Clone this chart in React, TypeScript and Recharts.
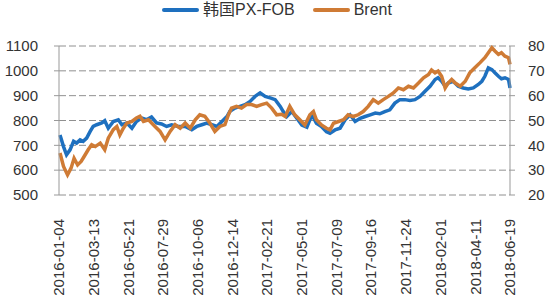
import { CartesianGrid, Line, LineChart, XAxis, YAxis } from "recharts";

// x positions are days since 2016-01-04
const pxDays = [
  2, 9, 15, 22, 29, 35, 42, 48, 55, 62, 68, 75, 85, 91, 98, 108, 118, 125, 135, 145, 154, 164, 174, 184, 194,
  204, 214, 224, 237, 251, 264, 274, 284, 294, 304, 314, 324, 334, 340, 350, 360, 370, 380, 390, 400, 410, 420,
  430, 440, 446, 453, 463, 473, 483, 493, 503, 512, 522, 532, 539, 549, 559, 569, 579, 589, 599, 609, 619, 629,
  638, 648, 658, 668, 678, 688, 698, 708, 718, 728, 738, 748, 754, 761, 768, 774, 784, 794, 804, 814, 824, 834,
  841, 847, 854, 861, 867, 874, 880, 887, 894, 897,
];
const pxValues = [
  742, 695, 662, 682, 716, 709, 722, 716, 729, 756, 776, 783, 790, 799, 769, 796, 803, 783, 790, 769, 796, 810,
  803, 814, 790, 786, 776, 783, 776, 776, 763, 776, 783, 790, 783, 776, 796, 816, 837, 850, 857, 864, 877, 897,
  911, 897, 891, 884, 857, 836, 816, 836, 809, 782, 773, 823, 789, 776, 755, 749, 762, 769, 803, 823, 796, 809,
  816, 823, 830, 827, 836, 843, 870, 884, 884, 881, 884, 897, 918, 938, 965, 972, 958, 938, 951, 958, 938, 931,
  927, 931, 945, 958, 978, 1012, 1005, 992, 978, 968, 972, 965, 931,
];

const brentDays = [
  2, 9, 17, 24, 30, 37, 44, 50, 58, 65, 72, 82, 91, 98, 108, 115, 121, 128, 135, 145, 154, 161, 168, 178, 191,
  201, 211, 221, 231, 241, 251, 261, 271, 280, 290, 300, 310, 320, 330, 337, 343, 353, 363, 373, 383, 393, 403,
  413, 423, 433, 443, 450, 459, 469, 479, 489, 499, 506, 512, 522, 532, 539, 546, 556, 566, 575, 585, 595, 605,
  615, 625, 635, 645, 655, 665, 675, 685, 695, 705, 715, 725, 735, 741, 748, 754, 761, 768, 774, 781, 788, 798,
  808, 817, 827, 837, 847, 854, 861, 867, 874, 880, 887, 894, 897,
];
const brentValues = [
  36.9, 31.5, 28.1, 30.8, 34.8, 32.1, 33.5, 35.5, 38.2, 40.2, 39.5, 40.9, 38.2, 42.9, 46.3, 47.6, 44.2, 46.9,
  49.0, 49.6, 51.0, 51.7, 49.6, 50.3, 47.6, 45.6, 42.2, 45.6, 48.3, 46.9, 49.0, 46.9, 50.3, 52.3, 51.7, 49.0,
  45.6, 47.6, 48.3, 52.3, 55.0, 55.7, 55.0, 56.4, 56.4, 55.7, 56.4, 57.0, 55.0, 52.3, 52.5, 51.6, 55.7, 52.3,
  50.3, 48.2, 52.3, 53.6, 50.3, 48.2, 46.9, 46.2, 48.9, 49.6, 50.3, 52.3, 51.6, 52.3, 53.6, 55.7, 58.4, 57.0,
  58.4, 59.7, 61.1, 63.1, 62.4, 63.8, 63.1, 65.1, 67.2, 68.5, 70.3, 69.2, 69.9, 67.8, 63.1, 65.1, 66.5, 65.1,
  63.8, 65.8, 69.2, 71.2, 73.2, 75.3, 77.3, 79.3, 78.0, 76.6, 77.3, 75.9, 75.3, 72.6,
];

const xTicks = [0, 69, 138, 207, 276, 345, 414, 483, 552, 621, 690, 759, 828, 897];
const leftTicks = [500, 600, 700, 800, 900, 1000, 1100];
const rightTicks = [20, 30, 40, 50, 60, 70, 80];

const pxData = pxDays.map((d, i) => ({ day: d, px: pxValues[i] }));
const brentData = brentDays.map((d, i) => ({ day: d, brent: brentValues[i] }));

const BLUE = "#1e70bf";
const ORANGE = "#cf7b35";
const FONT = "'Liberation Sans', 'Noto Sans CJK SC', sans-serif";

const dayToDate = (d: number) => new Date(Date.UTC(2016, 0, 4) + d * 86400000).toISOString().slice(0, 10);

function DateTick({ x, y, payload }: any) {
  return (
    <g transform={`translate(${x},${y})`}>
      <text transform="rotate(-90)" textAnchor="end" dy="0.35em" fill="#333" fontSize={15} fontFamily={FONT}>
        {dayToDate(payload.value)}
      </text>
    </g>
  );
}

const legendItems = [
  { name: "韩国PX-FOB", color: BLUE },
  { name: "Brent", color: ORANGE },
];

export default function App() {
  return (
    <div style={{ position: "absolute", left: 0, top: 0, width: 550, height: 300, background: "#fff" }}>
      <div
        style={{
          position: "absolute",
          top: 0,
          left: 0,
          width: 550,
          display: "flex",
          justifyContent: "center",
          gap: 18,
          fontFamily: FONT,
          fontSize: 16,
          color: "#333",
          lineHeight: "20px",
          paddingLeft: 4,
          boxSizing: "border-box",
        }}
      >
        {legendItems.map((it) => (
          <div key={it.name} style={{ display: "flex", alignItems: "center" }}>
            <span style={{ display: "inline-block", width: 37, height: 4, background: it.color, marginRight: 4, borderRadius: 2 }} />
            <span>{it.name}</span>
          </div>
        ))}
      </div>
      <LineChart width={550} height={300} margin={{ top: 46, right: 0, bottom: 0, left: 0 }}>
        <CartesianGrid vertical={false} stroke="#909090" strokeDasharray="7 3" yAxisId="left" />
        <XAxis
          type="number"
          dataKey="day"
          domain={[0, 897]}
          ticks={xTicks}
          interval={0}
          tickLine={false}
          axisLine={false}
          height={105}
          tickMargin={18}
          tick={<DateTick />}
        />
        <YAxis
          yAxisId="left"
          domain={[500, 1100]}
          ticks={leftTicks}
          width={59}
          tickSize={5}
          tickMargin={16}
          axisLine={{ stroke: "#999" }}
          tickLine={{ stroke: "#999" }}
          tick={{ fill: "#333", fontSize: 15, fontFamily: FONT }}
        />
        <YAxis
          yAxisId="right"
          orientation="right"
          domain={[20, 80]}
          ticks={rightTicks}
          width={40}
          tickSize={5}
          tickMargin={13}
          axisLine={{ stroke: "#999" }}
          tickLine={{ stroke: "#999" }}
          tick={{ fill: "#333", fontSize: 15, fontFamily: FONT, textAnchor: "start" }}
        />
        <Line
          yAxisId="left"
          data={pxData}
          dataKey="px"
          type="linear"
          stroke={BLUE}
          strokeWidth={3.5}
          dot={false}
          isAnimationActive={false}
        />
        <Line
          yAxisId="right"
          data={brentData}
          dataKey="brent"
          type="linear"
          stroke={ORANGE}
          strokeWidth={3.5}
          dot={false}
          isAnimationActive={false}
        />
      </LineChart>
    </div>
  );
}
